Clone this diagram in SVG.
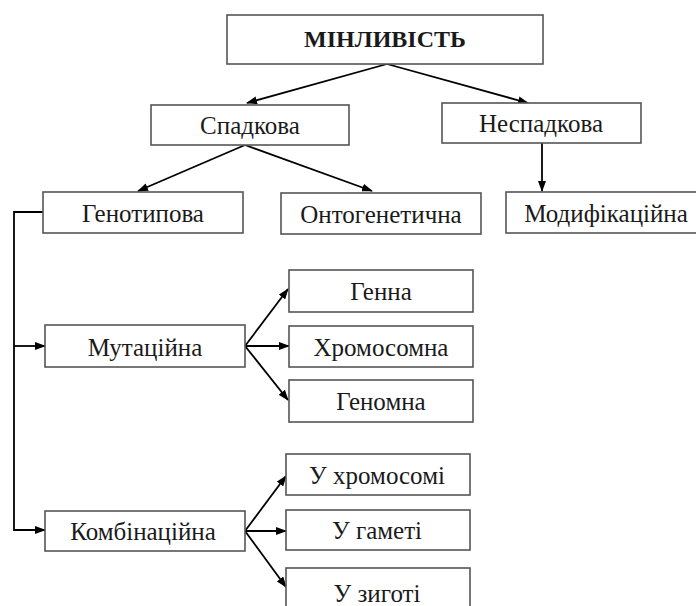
<svg xmlns="http://www.w3.org/2000/svg" width="696" height="606" viewBox="0 0 696 606">
  <defs>
    <marker id="ah" markerWidth="11" markerHeight="8" refX="10" refY="4" orient="auto" markerUnits="userSpaceOnUse">
      <path d="M0,0 L11,4 L0,8 z" fill="#000"/>
    </marker>
  </defs>
  <style>
    .box { fill: #fff; stroke: #555; stroke-width: 1.6; }
    .lbl { font-family: "Times New Roman", Tinos, "Liberation Serif", "Noto Serif", "DejaVu Serif", FreeSerif, serif; font-size: 25px; fill: #1a1a1a; text-anchor: middle; }
    .title { font-weight: bold; font-size: 24px; }
    .con { fill: none; stroke: #000; stroke-width: 1.8; }
    .arr { marker-end: url(#ah); }
  </style>
  <rect width="696" height="606" fill="#fff"/>

  <g id="connectors">
    <line class="con arr" x1="387" y1="64" x2="247" y2="103"/>
    <line class="con arr" x1="387" y1="64" x2="528" y2="103"/>
    <line class="con arr" x1="245" y1="145" x2="138" y2="191"/>
    <line class="con arr" x1="245" y1="145" x2="372" y2="191"/>
    <line class="con arr" x1="542" y1="143" x2="542" y2="191"/>
    <polyline class="con arr" points="43,212 14,212 14,530 45,530"/>
    <line class="con arr" x1="14" y1="346" x2="45" y2="346"/>
    <line class="con arr" x1="245" y1="346" x2="288" y2="289"/>
    <line class="con arr" x1="245" y1="346" x2="289" y2="346"/>
    <line class="con arr" x1="245" y1="346" x2="288" y2="400"/>
    <line class="con arr" x1="245" y1="531" x2="286" y2="476"/>
    <line class="con arr" x1="245" y1="531" x2="286" y2="531"/>
    <line class="con arr" x1="245" y1="531" x2="286" y2="587"/>
  </g>

  <g id="minlyvist">
    <rect class="box" x="227" y="15" width="316" height="49"/>
    <text class="lbl title" x="385" y="47">МІНЛИВІСТЬ</text>
  </g>
  <g id="spadkova">
    <rect class="box" x="151" y="105" width="198" height="40"/>
    <text class="lbl" x="250" y="134">Спадкова</text>
  </g>
  <g id="nespadkova">
    <rect class="box" x="442" y="103" width="199" height="40"/>
    <text class="lbl" x="541" y="132">Неспадкова</text>
  </g>
  <g id="genotypova">
    <rect class="box" x="43" y="192" width="200" height="41"/>
    <text class="lbl" x="143" y="222">Генотипова</text>
  </g>
  <g id="ontogenetychna">
    <rect class="box" x="281" y="193" width="200" height="41"/>
    <text class="lbl" x="381" y="223">Онтогенетична</text>
  </g>
  <g id="modyfikatsiina">
    <rect class="box" x="506" y="192" width="192" height="41"/>
    <text class="lbl" x="606" y="222">Модифікаційна</text>
  </g>
  <g id="mutatsiina">
    <rect class="box" x="45" y="325" width="200" height="42"/>
    <text class="lbl" x="145" y="356">Мутаційна</text>
  </g>
  <g id="genna">
    <rect class="box" x="289" y="270" width="184" height="42"/>
    <text class="lbl" x="381" y="300">Генна</text>
  </g>
  <g id="khromosomna">
    <rect class="box" x="289" y="326" width="184" height="41"/>
    <text class="lbl" x="381" y="356">Хромосомна</text>
  </g>
  <g id="genomna">
    <rect class="box" x="289" y="380" width="184" height="42"/>
    <text class="lbl" x="381" y="410">Геномна</text>
  </g>
  <g id="kombinatsiina">
    <rect class="box" x="45" y="511" width="200" height="40"/>
    <text class="lbl" x="143" y="540">Комбінаційна</text>
  </g>
  <g id="u-khromosomi">
    <rect class="box" x="286" y="454" width="184" height="41"/>
    <text class="lbl" x="377" y="484">У хромосомі</text>
  </g>
  <g id="u-gameti">
    <rect class="box" x="286" y="510" width="184" height="40"/>
    <text class="lbl" x="377" y="539">У гаметі</text>
  </g>
  <g id="u-zygoti">
    <rect class="box" x="286" y="568" width="184" height="50"/>
    <text class="lbl" x="377" y="602">У зиготі</text>
  </g>
</svg>
